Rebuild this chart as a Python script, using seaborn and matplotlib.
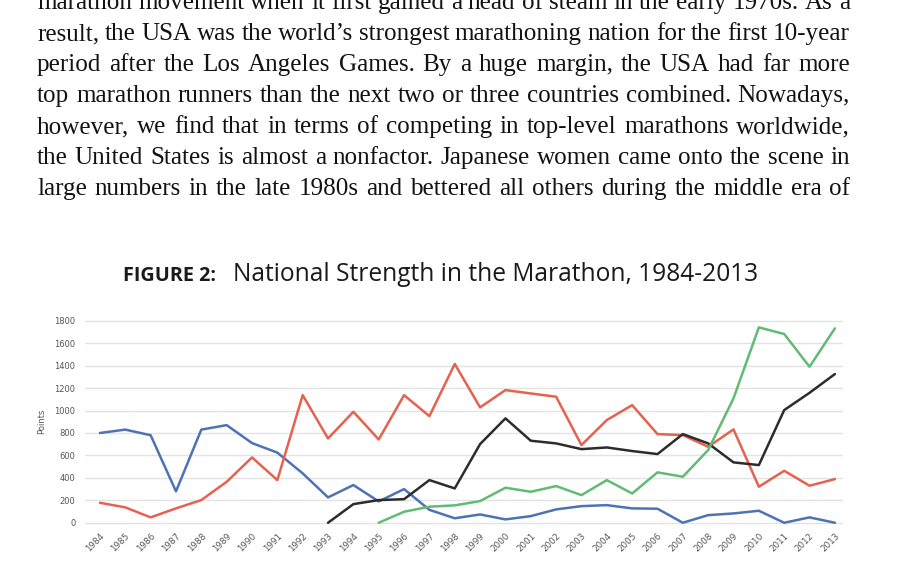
import matplotlib
matplotlib.use("Agg")
import numpy as np
import pandas as pd
import seaborn as sns
import matplotlib.pyplot as plt
from matplotlib.transforms import IdentityTransform

nan = np.nan
years = list(range(1984, 2014))
usa = [800, 830, 780, 280, 830, 870, 710, 625, 440, 226,
       336, 190, 300, 115, 40, 74, 30, 59, 119, 148,
       157, 128, 125, 0, 68, 83, 107, 0, 48, 0]
japan = [178, 137, 48, 128, 202, 365, 582, 380, 1137, 751,
         989, 742, 1137, 950, 1415, 1028, 1182, 1152, 1123, 692,
         915, 1048, 790, 781, 677, 832, 321, 463, 330, 389]
black_series = [nan] * 9 + [0, 166, 202, 210, 380, 306, 701, 930, 731, 707, 656,
                            671, 639, 612, 790, 707, 538, 514, 1004, 1158, 1325]
green_series = [nan] * 11 + [0, 98, 143, 155, 193, 312, 276, 327, 246, 380, 261,
                             449, 410, 648, 1109, 1741, 1682, 1390, 1732]
yticks = [0, 200, 400, 600, 800, 1000, 1200, 1400, 1600, 1800]

series_names = ["Blue", "Red", "Black", "Green"]
palette = {"Blue": "#4e72b6", "Red": "#e6624e", "Black": "#2c2c2c", "Green": "#62bb74"}

paragraph = [
    "marathon movement when it first gained a head of steam in the early 1970s. As a",
    "result, the USA was the world\u2019s strongest marathoning nation for the first 10-year",
    "period after the Los Angeles Games. By a huge margin, the USA had far more",
    "top marathon runners than the next two or three countries combined. Nowadays,",
    "however, we find that in terms of competing in top-level marathons worldwide,",
    "the United States is almost a nonfactor. Japanese women came onto the scene in",
    "large numbers in the late 1980s and bettered all others during the middle era of",
]
title_bold = "FIGURE 2:"
title_rest = "National Strength in the Marathon, 1984-2013"

df = pd.DataFrame({"Year": years * 4,
                   "Points": usa + japan + black_series + green_series,
                   "Series": sum([[n] * len(years) for n in series_names], [])})
df = df.dropna()

W, H = 900, 564
fig = plt.figure(figsize=(9, 5.64), dpi=100)
fig.patch.set_facecolor("white")
sns.set_style("white")

# chart axes (pixel layout)
x0, x1 = 85, 843
yb, yt = 525, 318.5
ax = fig.add_axes([x0 / W, (H - yb) / H, (x1 - x0) / W, (yb - yt) / H])
sns.lineplot(data=df, x="Year", y="Points", hue="Series", palette=palette,
             hue_order=series_names, linewidth=1.8, legend=False, ax=ax)
ax.set_xlim(1983.41, 2013.32)
ax.set_ylim(-20, 1820)
for s in ax.spines.values():
    s.set_visible(False)
for v in yticks:
    ax.axhline(v, color="#e3e3e3", linewidth=1.0, zorder=0)
ax.set_yticks(yticks)
ax.set_yticklabels([str(v) for v in yticks], fontsize=6, color="#555555")
ax.set_xticks(years)
ax.set_xticklabels([str(y) for y in years], fontsize=6.3, color="#555555",
                   rotation=45, ha="right", rotation_mode="anchor")
ax.tick_params(axis="y", length=0, pad=7)
ax.tick_params(axis="x", length=0, pad=4.5)
ax.set_xlabel("")
ax.set_ylabel("Points", fontsize=6, color="#555555", labelpad=6)

# paragraph text, justified
renderer = fig.canvas.get_renderer()
tx0, tx1 = 37, 850
baselines = [9.3, 40.3, 71.3, 102.2, 133.1, 164.0, 195.0]
serif = "Liberation Serif"

def text_widths(items, size, family, weight="normal"):
    ws = []
    for w in items:
        t = fig.text(0, 0, w, fontsize=size, family=family, weight=weight,
                     transform=IdentityTransform())
        ws.append(t.get_window_extent(renderer).width)
        t.remove()
    return ws

base_size = 16
space_w = text_widths(["a a"], base_size, serif)[0] - 2 * text_widths(["a"], base_size, serif)[0]
natural = []
for line in paragraph:
    ws = text_widths(line.split(), base_size, serif)
    natural.append(sum(ws) + 0.9 * space_w * (len(ws) - 1))
size = base_size * (tx1 - tx0) / max(natural)

for line, bl in zip(paragraph, baselines):
    words = line.split()
    ws = text_widths(words, size, serif)
    gap = ((tx1 - tx0) - sum(ws)) / (len(words) - 1)
    x = tx0
    for w, wd in zip(words, ws):
        fig.text(x, H - bl, w, fontsize=size, family=serif, color="#121212",
                 va="baseline", ha="left", transform=IdentityTransform())
        x += wd + gap

# title
sans = "Open Sans"
rw = text_widths([title_rest], 16, sans)[0]
rsize = 16 * (759 - 233) / rw
bw = text_widths([title_bold], 14, sans, "bold")[0]
bsize = 14 * (217 - 123) / bw
fig.text(123, H - 280.7, title_bold, fontsize=bsize, family=sans, weight="bold",
         color="#1a1a1a", va="baseline", ha="left", transform=IdentityTransform())
fig.text(233, H - 280.7, title_rest, fontsize=rsize, family=sans, color="#1a1a1a",
         va="baseline", ha="left", transform=IdentityTransform())

fig.savefig("out.png", dpi=100, facecolor="white")
